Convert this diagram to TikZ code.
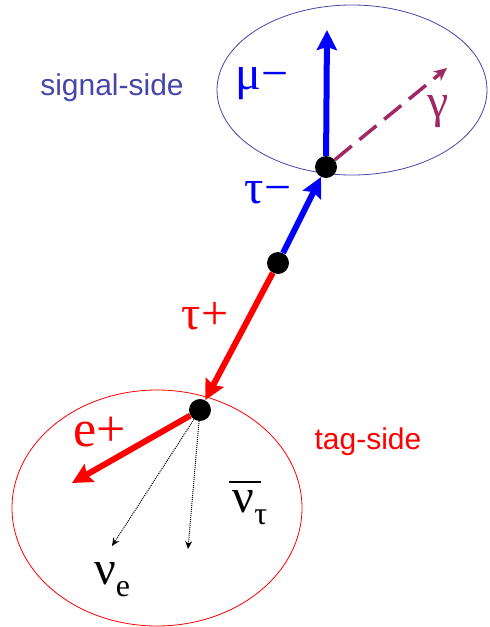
\documentclass[tikz,border=0pt]{standalone}
\usepackage{fontspec}
\setmainfont{Liberation Serif}
\newfontfamily\sidefont{Liberation Sans}
\usetikzlibrary{positioning,calc,arrows.meta}
\definecolor{trackblue}{RGB}{0,0,255}
\definecolor{sidenavy}{RGB}{70,70,170}
\definecolor{trackred}{RGB}{255,0,0}
\definecolor{photonpurple}{RGB}{160,40,100}
\newcommand{\lowidx}[1]{\raisebox{-0.25em}{\fontsize{32}{32}\selectfont #1}}
\newcommand{\barnu}{\makebox[0pt][l]{\hspace{-0.08em}\raisebox{0.62em}{\rule{0.66em}{1.6pt}}}ν}

\begin{document}
\begin{tikzpicture}[x=1pt,y=-1pt,
  every node/.style={inner sep=0pt},
  vertex/.style={circle,fill=black,minimum size=22pt},
  track/.style={line width=6pt,-{Stealth[length=20pt,width=20pt,inset=3pt]}},
  nutrack/.style={densely dotted,line width=1pt,-{Stealth[length=8pt,width=7pt]}},
  particle/.style={font=\fontsize{48}{50}\selectfont},
  sidelabel/.style={font=\sidefont\fontsize{30}{36}\selectfont}
]
\useasboundingbox (0,0) rectangle (490,627);
% the two hemispheres
\draw[sidenavy,line width=0.8pt] (352,90) ellipse [x radius=135,y radius=85];
\draw[trackred,line width=0.8pt] (157,508) ellipse [x radius=145,y radius=118];
% decay vertices
\node[vertex] (sigv) at (326,167) {};
\node[vertex] (midv) at (278,263) {};
\node[vertex] (tagv) at (200,410) {};
\coordinate (muend) at (327,30);
\coordinate (gamend) at (447,68);
\coordinate (eend) at (72,483);
\coordinate (nueend) at (112,546);
\coordinate (nutend) at (188,549);
% tracks
\draw[track,trackblue] (midv) -- (sigv);
\draw[track,trackred] (midv) -- (tagv);
\draw[track,trackblue] (sigv) -- (muend);
\draw[photonpurple,line width=3.5pt,dash pattern=on 22pt off 10pt,
  -{Stealth[length=13pt,width=12pt]}] (sigv) -- (gamend);
\draw[track,trackred] (tagv) -- (eend);
\draw[nutrack] (tagv) -- (nueend);
\draw[nutrack] (tagv) -- (nutend);
% labels
\node[particle,text=trackblue] (mulbl) at (262,84) {μ−};
\node[particle,text=photonpurple] (gamlbl) at (438,112) {γ};
\node[particle,text=trackblue] (taumlbl) at (268,193) {τ−};
\node[particle,text=trackred] (tauplbl) at (205,316) {τ+};
\node[particle,text=trackred,font=\fontsize{52}{54}\selectfont] (elbl) at (100,432) {e+};
\node[particle] (nuelbl) at (112,580) {ν\lowidx{e}};
\node[particle] (nutlbl) at (250,503) {\barnu\lowidx{τ}};
\node[sidelabel,text=sidenavy] (siglbl) at (112,88) {signal-side};
\node[sidelabel,text=trackred] (taglbl) at (368,442) {tag-side};
\end{tikzpicture}
\end{document}
